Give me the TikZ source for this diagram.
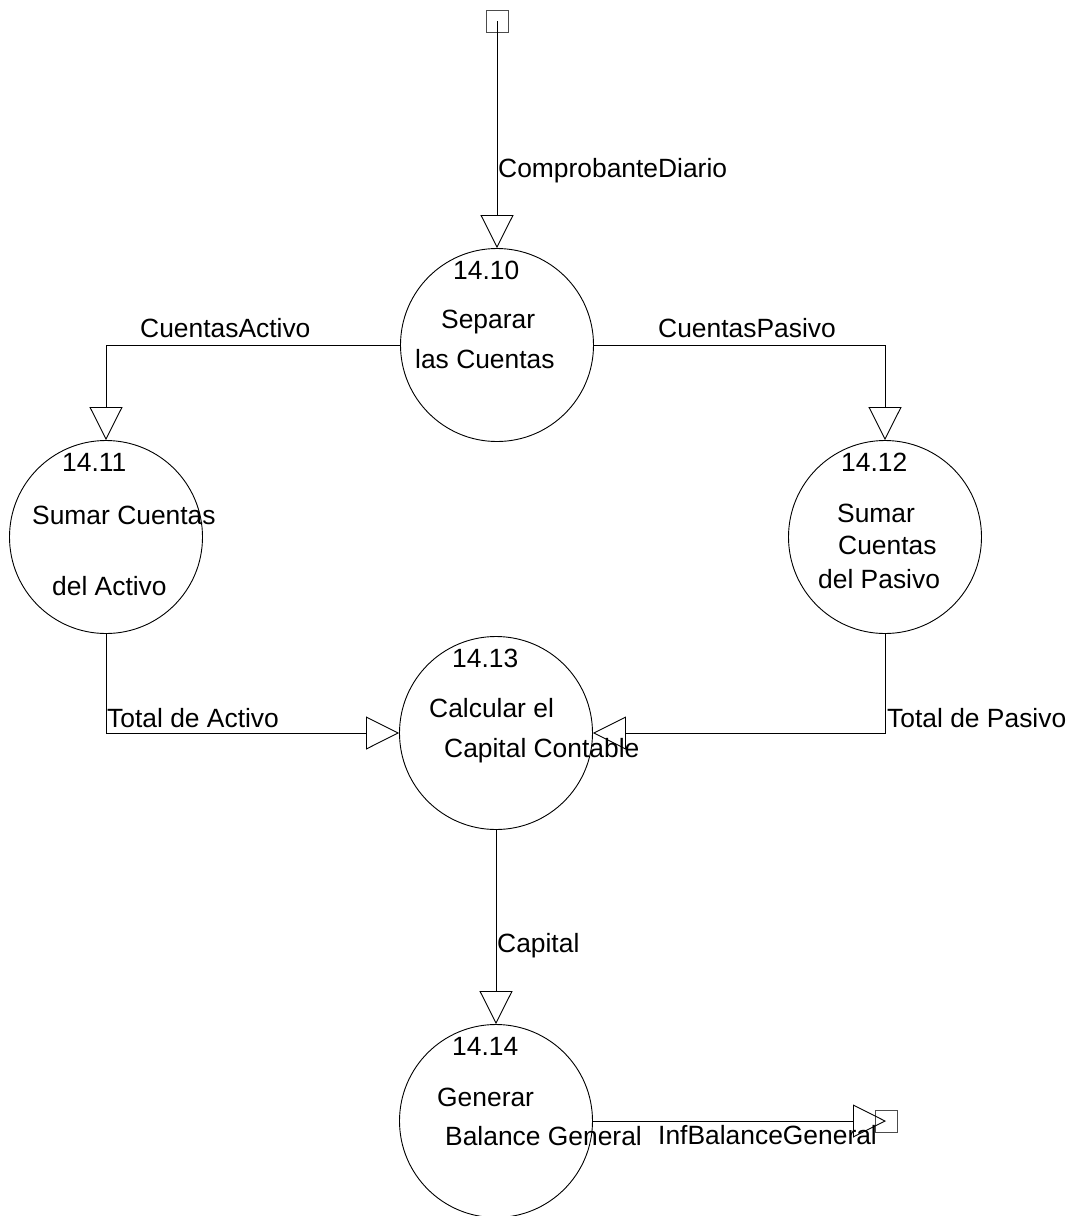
\documentclass[tikz,border=0pt]{standalone}
\usepackage{fontspec}
\setmainfont{Liberation Sans}
\usepackage{tikz}
\usetikzlibrary{arrows.meta}
\tikzstyle{proceso}=[draw, circle, line width=0.9pt, minimum size=193pt, inner sep=0pt]
\tikzstyle{extremo}=[draw=black!70, rectangle, line width=1pt, minimum size=22pt, inner sep=0pt]
\tikzstyle{flujo}=[line width=0.9pt, -{Triangle[open, length=33pt, width=33pt]}]
\tikzstyle{texto}=[anchor=base west, inner sep=0pt]
\newcommand{\nodoproceso}[4]{
  \node[proceso] (#1) at (#2,#3) {};
  \node[texto] (#1num) at ([xshift=-44pt, yshift=66pt]#1.center) {#4};
}
\tikzset{every node/.style={font=\fontsize{26.4}{30}\selectfont}}

\begin{document}
\begin{tikzpicture}[x=1pt, y=-1pt]
  \useasboundingbox (0,0) rectangle (1076,1216);
  \node[extremo] (entrada) at (497,21) {};
  \node[extremo] (salida) at (886,1121) {};
  \nodoproceso{p10}{497}{345}{14.10}
  \nodoproceso{p11}{106}{537}{14.11}
  \nodoproceso{p12}{885}{537}{14.12}
  \nodoproceso{p13}{496}{733}{14.13}
  \nodoproceso{p14}{496}{1121}{14.14}
  \node[texto] (t10a) at (441,328) {Separar};
  \node[texto] (t10b) at (415,368) {las Cuentas};
  \node[texto] (t11a) at (32,524) {Sumar Cuentas};
  \node[texto] (t11b) at (52,595) {del Activo};
  \node[texto] (t12a) at (837,522) {Sumar};
  \node[texto] (t12b) at (838,554) {Cuentas};
  \node[texto] (t12c) at (818,588) {del Pasivo};
  \node[texto] (t13a) at (429,717) {Calcular el};
  \node[texto] (t13b) at (444,757) {Capital Contable};
  \node[texto] (t14a) at (437,1106) {Generar};
  \node[texto] (t14b) at (445,1145) {Balance General};
  \draw[flujo] (entrada.center) -- (p10.north);
  \draw[flujo] (p10.west) -| (p11.north);
  \draw[flujo] (p10.east) -| (p12.north);
  \draw[flujo] (p11.south) |- (p13.west);
  \draw[flujo] (p12.south) |- (p13.east);
  \draw[flujo] (p13.south) -- (p14.north);
  \draw[flujo] (p14.east) -- (salida.center);
  \node[texto] (f1) at (498,177) {ComprobanteDiario};
  \node[texto] (f2) at (140,337) {CuentasActivo};
  \node[texto] (f3) at (658,337) {CuentasPasivo};
  \node[texto] (f4) at (107,727) {Total de Activo};
  \node[texto] (f5) at (887,727) {Total de Pasivo};
  \node[texto] (f6) at (497,952) {Capital};
  \node[texto] (f7) at (658,1144) {InfBalanceGeneral};
\end{tikzpicture}
\end{document}
